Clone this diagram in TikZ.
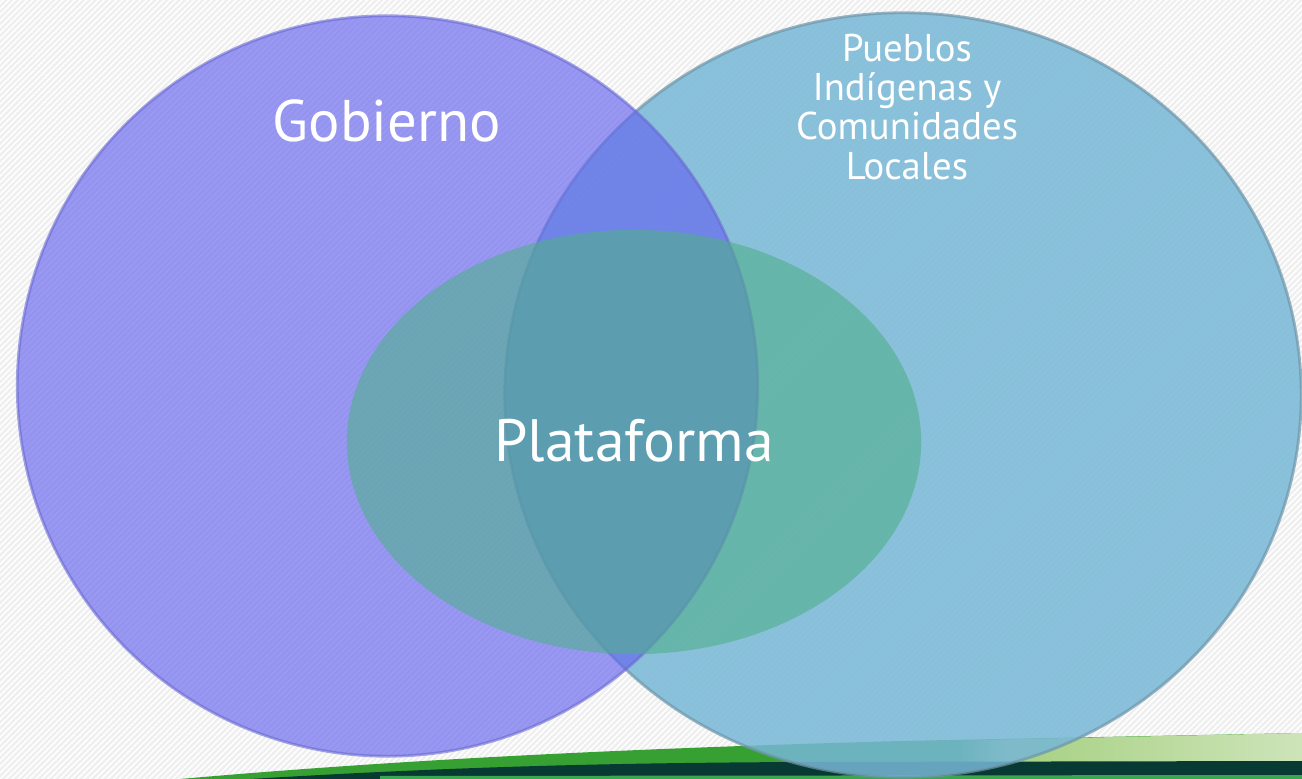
\documentclass[tikz,border=0pt]{standalone}
\usepackage{fontspec}
\setmainfont{PT Sans}
\usetikzlibrary{patterns.meta}
\definecolor{bgcol}{RGB}{239,239,239}
\definecolor{gobcol}{RGB}{100,100,240}
\definecolor{gobrim}{RGB}{105,105,210}
\definecolor{pueblocol}{RGB}{119,183,214}
\definecolor{pueblorim}{RGB}{110,150,170}
\definecolor{platcol}{RGB}{80,175,140}
\definecolor{swgreen}{RGB}{55,160,50}
\definecolor{swlight}{RGB}{165,208,128}
\definecolor{swpale}{RGB}{205,228,185}
\definecolor{swdark}{RGB}{8,58,52}
\definecolor{swbottom}{RGB}{60,165,80}
\begin{document}
\begin{tikzpicture}[x=0.01cm,y=-0.01cm,
    vennlabel/.style={text=white,align=center,inner sep=0pt}]
    \useasboundingbox (0,0) rectangle (1302,779);
    % Background
    \fill[bgcol] (0,0) rectangle (1302,779);
    \fill[pattern={Lines[angle=45,distance=1.2pt,line width=0.45pt]},pattern color=white] (0,0) rectangle (1302,779);
    % Bottom swoosh
    \fill[swgreen] (180,779) .. controls (420,758) and (650,748) .. (900,741) -- (1302,733) -- (1302,779) -- cycle;
    \shade[left color=swgreen,right color=swlight] (960,740.5) -- (1000,739.5) -- (1000,763) -- (960,763) -- cycle;
    \shade[left color=swlight,right color=swpale] (1000,739.5) -- (1302,733) -- (1302,763) -- (1000,763) -- cycle;
    \fill[swdark] (250,779) .. controls (450,767) and (600,763) .. (800,762) -- (1302,761) -- (1302,779) -- cycle;
    \fill[swbottom] (380,776) -- (1302,775) -- (1302,779) -- (380,779) -- cycle;
    % Pueblos circle
    \fill[pueblocol,opacity=0.85] (903,395) ellipse[x radius=3.98cm,y radius=3.82cm];
    \draw[pueblorim,line width=0.8pt,opacity=0.7] (903,395) ellipse[x radius=3.98cm,y radius=3.82cm];
    % Gobierno circle
    \fill[gobcol,opacity=0.65] (387.5,386) circle[radius=3.70cm];
    \draw[gobrim,line width=0.8pt,opacity=0.6] (387.5,386) circle[radius=3.70cm];
    % Plataforma ellipse
    \fill[platcol,opacity=0.6] (634,442) ellipse[x radius=2.87cm,y radius=2.12cm];
    % Labels
    \node[vennlabel,font=\fontsize{16.7}{19}\selectfont] (gob) at (387,121) {Gobierno};
    \node[vennlabel,font=\fontsize{11}{11.1}\selectfont] (pueblos) at (907,107) {Pueblos\\Indígenas y\\Comunidades\\Locales};
    \node[vennlabel,font=\fontsize{17}{19}\selectfont] (plat) at (634,441) {Plataforma};
\end{tikzpicture}
\end{document}
